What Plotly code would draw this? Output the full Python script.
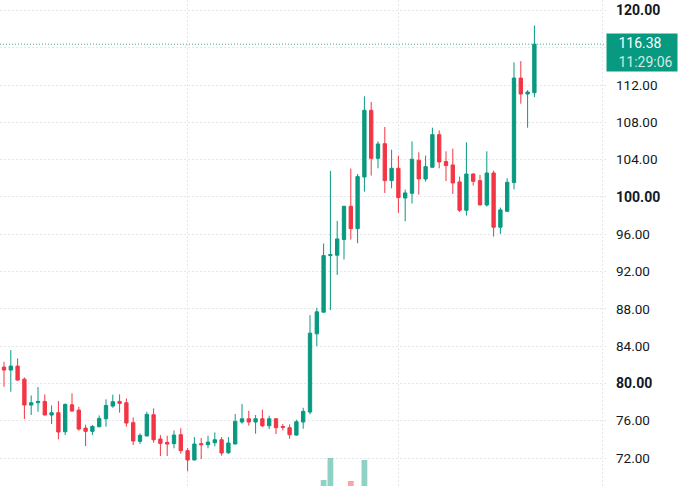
import plotly.graph_objects as go

# daily candles (index 0 = first visible bar)
opens = [81.75, 81.43, 81.86, 80.46, 77.68, 77.93, 78.07, 76.61, 76.86, 74.82,
         77.71, 77.14, 75.21, 74.86, 75.36, 76.21, 77.57, 78.07, 77.93, 75.79,
         73.79, 74.36, 76.64, 74.04, 73.68, 73.54, 74.50, 72.79, 71.79, 73.54,
         73.43, 73.64, 73.96, 72.57, 73.50, 75.86, 76.21, 75.86, 76.21, 75.46,
         76.21, 75.39, 75.25, 74.46, 75.86, 76.93, 85.32, 87.64, 93.71, 93.75,
         95.43, 99.00, 96.60, 102.14, 109.29, 104.14, 105.71, 101.75, 103.07, 99.89,
         100.39, 103.93, 101.93, 103.18, 106.68, 103.79, 103.43, 101.61, 98.57, 102.46,
         101.75, 99.14, 102.57, 96.75, 98.46, 101.54, 112.75, 111.04, 111.18]
highs = [82.32, 83.57, 82.68, 80.64, 78.71, 79.61, 78.82, 77.64, 78.11, 77.86,
         78.93, 77.50, 75.57, 75.54, 76.57, 78.29, 78.79, 78.82, 78.39, 76.36,
         74.64, 76.96, 77.32, 74.46, 74.39, 74.96, 75.20, 73.07, 74.25, 74.14,
         74.39, 74.75, 74.25, 74.25, 76.71, 77.79, 77.07, 76.61, 77.18, 76.54,
         76.25, 75.64, 75.61, 76.11, 77.39, 87.32, 88.11, 95.00, 102.79, 97.43,
         99.00, 103.04, 102.46, 110.79, 110.18, 105.96, 107.50, 105.07, 104.43, 100.79,
         105.96, 104.79, 104.43, 107.43, 107.14, 104.89, 105.18, 102.18, 105.86, 102.54,
         102.36, 104.89, 102.82, 98.86, 102.00, 114.43, 114.57, 111.46, 118.39]
lows = [79.64, 79.11, 80.29, 76.18, 76.61, 76.96, 76.61, 75.64, 74.00, 74.46,
        76.96, 74.93, 73.29, 74.46, 75.29, 75.36, 77.39, 76.86, 75.36, 73.39,
        73.50, 74.36, 73.64, 72.21, 72.21, 73.04, 72.46, 70.57, 71.75, 71.89,
        73.04, 73.25, 72.25, 72.43, 73.50, 75.68, 75.46, 74.61, 75.32, 75.11,
        74.57, 74.96, 74.07, 74.39, 75.14, 76.68, 84.00, 87.64, 87.86, 91.64,
        93.29, 95.43, 95.04, 100.57, 102.29, 103.07, 100.43, 100.93, 98.29, 97.39,
        99.29, 100.25, 101.64, 103.18, 103.07, 101.71, 100.32, 98.39, 98.00, 101.21,
        99.14, 98.96, 95.75, 96.04, 98.46, 100.82, 110.00, 107.43, 110.71]
closes = [81.43, 81.86, 80.36, 77.68, 77.93, 78.07, 76.61, 76.86, 74.79, 77.75,
          77.04, 75.11, 74.86, 75.39, 76.25, 77.64, 78.04, 77.86, 75.75, 73.82,
          74.43, 76.68, 73.96, 73.57, 73.50, 74.46, 72.79, 71.79, 73.50, 73.43,
          73.71, 73.96, 72.54, 73.61, 75.93, 76.21, 75.86, 76.21, 75.46, 76.21,
          75.25, 75.29, 74.50, 75.89, 77.00, 85.39, 87.68, 93.71, 93.82, 95.50,
          99.00, 96.60, 102.18, 109.29, 104.14, 105.68, 101.75, 103.07, 99.93, 100.43,
          104.04, 101.93, 103.25, 106.68, 103.75, 103.36, 101.50, 98.57, 102.46, 101.68,
          99.14, 102.57, 96.75, 98.61, 101.57, 112.75, 111.04, 111.25, 116.38]

# only the tallest volume bars reach into view
volume_idx = [47, 48, 51, 53]
volumes = [6, 28, 5, 26]
volume_colors = ["rgba(8,153,129,0.45)", "rgba(8,153,129,0.45)",
                 "rgba(242,54,69,0.45)", "rgba(8,153,129,0.45)"]

price_ticks = [72, 76, 80, 84, 88, 92, 96, 100, 104, 108, 112, 116, 120]
round_ticks = [80, 100, 120]
month_ticks = [27, 58, 88]
last_price = 116.38
countdown = "11:29:06"

GREEN = "#089981"
RED = "#F23645"
GRID = "#e4e6ec"
GRID_DASH = "1.5px,2.5px"
INDENT = "&nbsp;" * 3


def price_label(p):
    # the last-price tag sits on top of 116
    if p == 116:
        return ""
    if p in round_ticks:
        return f"<span style='font-size:14px'><b>{p:.2f}</b></span>"
    return f"{p:.2f}"


fig = go.Figure()
fig.add_trace(go.Bar(x=volume_idx, y=volumes, marker_color=volume_colors,
                     marker_line_width=0, width=0.85, yaxis="y2"))
fig.add_trace(go.Candlestick(
    x=list(range(len(opens))), open=opens, high=highs, low=lows, close=closes,
    increasing=dict(line=dict(color=GREEN, width=1), fillcolor=GREEN),
    decreasing=dict(line=dict(color=RED, width=1), fillcolor=RED),
    whiskerwidth=0,
))

fig.add_hline(y=last_price, line=dict(color=GREEN, width=1, dash="1px,2px"), opacity=0.8)
fig.add_annotation(
    xref="paper", x=1, xanchor="left",
    yref="y", y=last_price, yanchor="top", yshift=11,
    text=f"{INDENT}{last_price:.2f}<br>{INDENT}<span style='color:#cfeae5'>{countdown}</span>",
    showarrow=False, align="left", bgcolor=GREEN, width=68, height=35,
    font=dict(color="white", size=14),
)

fig.update_layout(
    width=680, height=486,
    margin=dict(l=0, r=74, t=0, b=0),
    paper_bgcolor="white", plot_bgcolor="white",
    showlegend=False,
    boxgap=0.3,
    font=dict(family="Roboto, sans-serif", color="#131722"),
    xaxis=dict(range=[-0.588, 88.53], rangeslider_visible=False, tickmode="array",
               tickvals=month_ticks, showticklabels=False, ticks="",
               showgrid=True, gridcolor=GRID, griddash=GRID_DASH, zeroline=False),
    yaxis=dict(range=[69.0, 121.12], side="right", tickmode="array",
               tickvals=price_ticks, ticktext=[price_label(p) for p in price_ticks],
               ticks="", ticklabelstandoff=9, tickfont=dict(size=13.5),
               showgrid=True, gridcolor=GRID, griddash=GRID_DASH, zeroline=False),
    yaxis2=dict(range=[0, 486], overlaying="y", visible=False),
)

fig.write_html("out.html", config={"displayModeBar": False},
               post_script="document.body.style.margin='0';")
